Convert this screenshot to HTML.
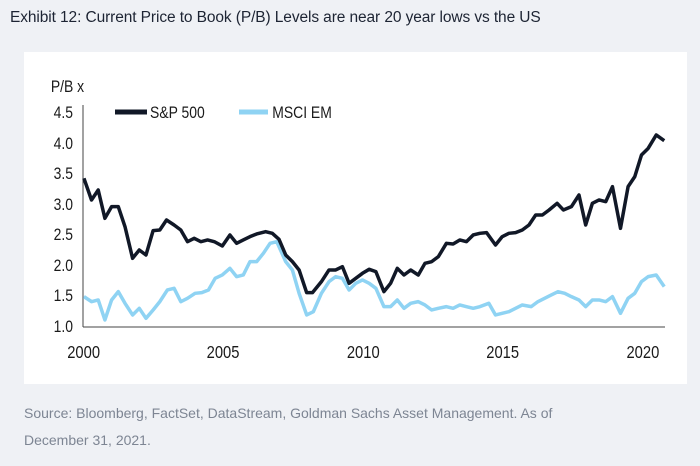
<!DOCTYPE html>
<html><head><style>
body{margin:0;width:700px;height:466px;background:#eff1f5;font-family:"Liberation Sans",sans-serif;position:relative;overflow:hidden}
.t{position:absolute;left:10px;top:9px;font-size:15.5px;color:#1d2433;letter-spacing:-0.1px}
.s{position:absolute;left:24px;top:400px;font-size:14px;color:#7d8593;line-height:27px}
svg{position:absolute;left:0;top:0}
text{font-family:"Liberation Sans",sans-serif;fill:#1a1a1a}
</style></head><body>
<div class="t">Exhibit 12: Current Price to Book (P/B) Levels are near 20 year lows vs the US</div>
<svg width="700" height="466">
<rect x="24" y="52" width="663" height="332" fill="#fff"/>
<g font-size="17" text-anchor="end" transform="scale(0.82,1)">
<text x="89" y="118">4.5</text><text x="89" y="149">4.0</text><text x="89" y="179">3.5</text><text x="89" y="210">3.0</text><text x="89" y="240">2.5</text><text x="89" y="271">2.0</text><text x="89" y="301">1.5</text><text x="89" y="332">1.0</text>
<text x="62" y="92" text-anchor="start">P/B x</text>
</g>
<g font-size="18" text-anchor="middle" transform="scale(0.82,1)">
<text x="102" y="358">2000</text><text x="272" y="358">2005</text><text x="443" y="358">2010</text><text x="613" y="358">2015</text><text x="784" y="358">2020</text>
</g>
<line x1="83" y1="105" x2="83" y2="327" stroke="#444" stroke-width="1"/>
<line x1="83" y1="327" x2="665" y2="327" stroke="#444" stroke-width="1"/>
<line x1="115" y1="112" x2="147" y2="112" stroke="#111827" stroke-width="5"/>
<text x="183" y="118" font-size="17" transform="scale(0.82,1)">S&amp;P 500</text>
<line x1="239" y1="112" x2="268" y2="112" stroke="#8fd3f3" stroke-width="5"/>
<text x="332" y="118" font-size="17" transform="scale(0.82,1)">MSCI EM</text>
<g transform="translate(0,40) scale(0.4464,0.3333)" fill="none" stroke-linejoin="round">
<polyline vector-effect="non-scaling-stroke" stroke="#8fd3f3" stroke-width="3.5" points="188,770 205,785 220,780 235,840 250,780 265,755 280,790 297,825 312,805 327,835 343,810 358,785 375,750 390,745 405,785 420,775 437,760 452,758 467,750 482,715 498,705 515,685 530,710 545,705 560,665 575,665 590,640 605,610 620,605 640,665 655,690 670,760 687,825 702,815 720,760 737,725 752,710 767,715 782,750 797,730 812,720 827,730 842,745 860,800 875,800 890,780 905,805 920,790 937,785 952,795 967,810 982,805 1000,800 1015,805 1030,795 1045,800 1060,805 1075,800 1095,790 1110,825 1125,820 1140,815 1155,805 1170,795 1190,800 1205,785 1220,775 1235,765 1250,755 1265,760 1280,770 1297,780 1312,800 1327,780 1342,780 1357,785 1372,770 1390,820 1407,775 1422,760 1437,725 1452,710 1470,705 1488,740"/>
<polyline vector-effect="non-scaling-stroke" stroke="#111827" stroke-width="3.5" points="188,415 205,480 220,450 235,535 250,500 265,500 280,560 297,655 312,630 327,645 343,572 358,570 373,540 390,555 405,570 420,605 435,595 450,605 465,600 480,605 498,618 515,585 530,610 545,600 560,590 575,582 595,575 610,580 625,598 640,645 655,665 670,690 687,758 700,758 720,725 737,690 752,690 767,680 782,730 797,715 812,700 827,688 842,695 860,755 875,730 890,685 905,705 920,690 937,705 952,670 967,665 982,650 1000,610 1015,612 1030,600 1045,605 1060,585 1075,580 1090,578 1110,615 1125,590 1140,580 1155,578 1170,570 1185,555 1200,525 1215,525 1230,510 1248,490 1262,510 1280,500 1297,465 1312,555 1327,490 1342,480 1357,485 1372,440 1390,565 1407,440 1422,410 1437,345 1452,325 1470,285 1488,302"/>
</g>
</svg>
<div class="s">Source: Bloomberg, FactSet, DataStream, Goldman Sachs Asset Management. As of<br>December 31, 2021.</div>
</body></html>
